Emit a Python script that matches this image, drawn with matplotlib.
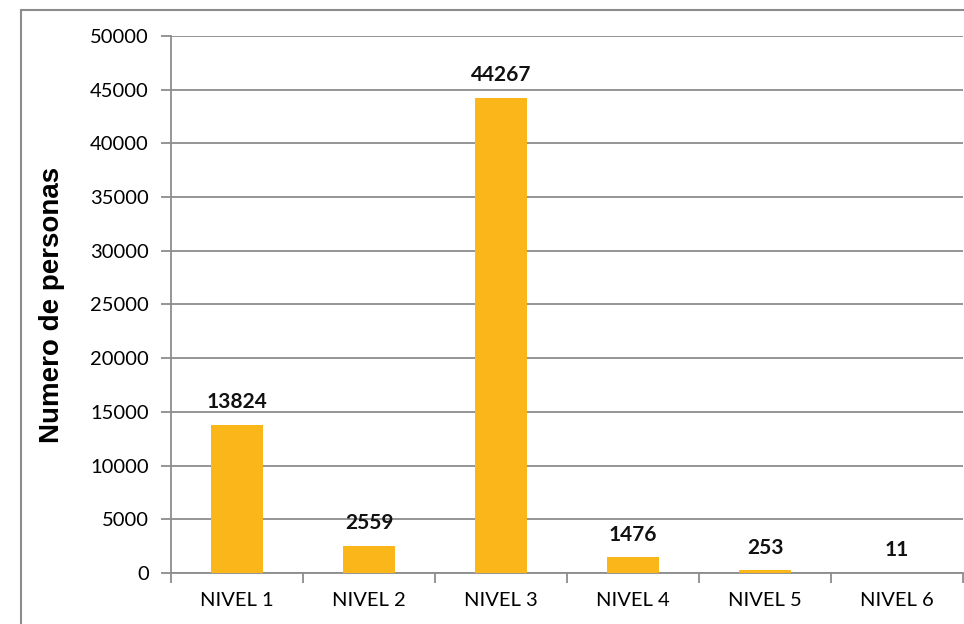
import matplotlib.pyplot as plt
from matplotlib.patches import Rectangle

niveles = ['NIVEL 1', 'NIVEL 2', 'NIVEL 3', 'NIVEL 4', 'NIVEL 5', 'NIVEL 6']
personas = [13824, 2559, 44267, 1476, 253, 11]
yticks = [0, 5000, 10000, 15000, 20000, 25000, 30000, 35000, 40000, 45000, 50000]

fig = plt.figure(figsize=(9.64, 6.24), dpi=100)
ax = fig.add_axes([171 / 964, 1 - 573 / 624, 792 / 964, 537 / 624])

# outer chart frame, runs off the right and bottom edges
fig.patches.append(Rectangle((21 / 964, -0.05), 1.0, 1 - 10 / 624 + 0.05,
                             transform=fig.transFigure, fill=False,
                             edgecolor='#8c8c8c', linewidth=1.5, zorder=0))

x = range(len(niveles))
ax.bar(x, personas, width=0.4, color='#FBB619', zorder=3)

for xi, v in zip(x, personas):
    ax.annotate(str(v), (xi, v), xytext=(0, 9), textcoords='offset points',
                ha='center', va='bottom', fontsize=15, fontweight='bold',
                family='Lato', color='#111111')

ax.set_xlim(-0.5, len(niveles) - 0.5)
ax.set_ylim(0, 50000)
ax.set_yticks(yticks)
ax.set_yticklabels([str(t) for t in yticks], family='Lato', fontsize=14.5)
ax.set_xticks(x)
ax.set_xticklabels(niveles, family='Lato', fontsize=14.5)
ax.set_xticks([i - 0.5 for i in range(len(niveles) + 1)], minor=True)

ax.grid(axis='y', color='#8c8c8c', linewidth=1.3, zorder=0)
ax.tick_params(axis='y', length=7, width=1.3, color='#8c8c8c', pad=9)
ax.tick_params(axis='x', which='major', length=0, pad=14)
ax.tick_params(axis='x', which='minor', length=7, width=1.3, color='#8c8c8c')

for side in ['top', 'right']:
    ax.spines[side].set_visible(False)
for side in ['left', 'bottom']:
    ax.spines[side].set_color('#8c8c8c')
    ax.spines[side].set_linewidth(1.3)

ax.set_ylabel('Numero de personas', family='Liberation Sans', fontsize=20,
              fontweight='bold', labelpad=18)

fig.savefig('out.png', dpi=100)
